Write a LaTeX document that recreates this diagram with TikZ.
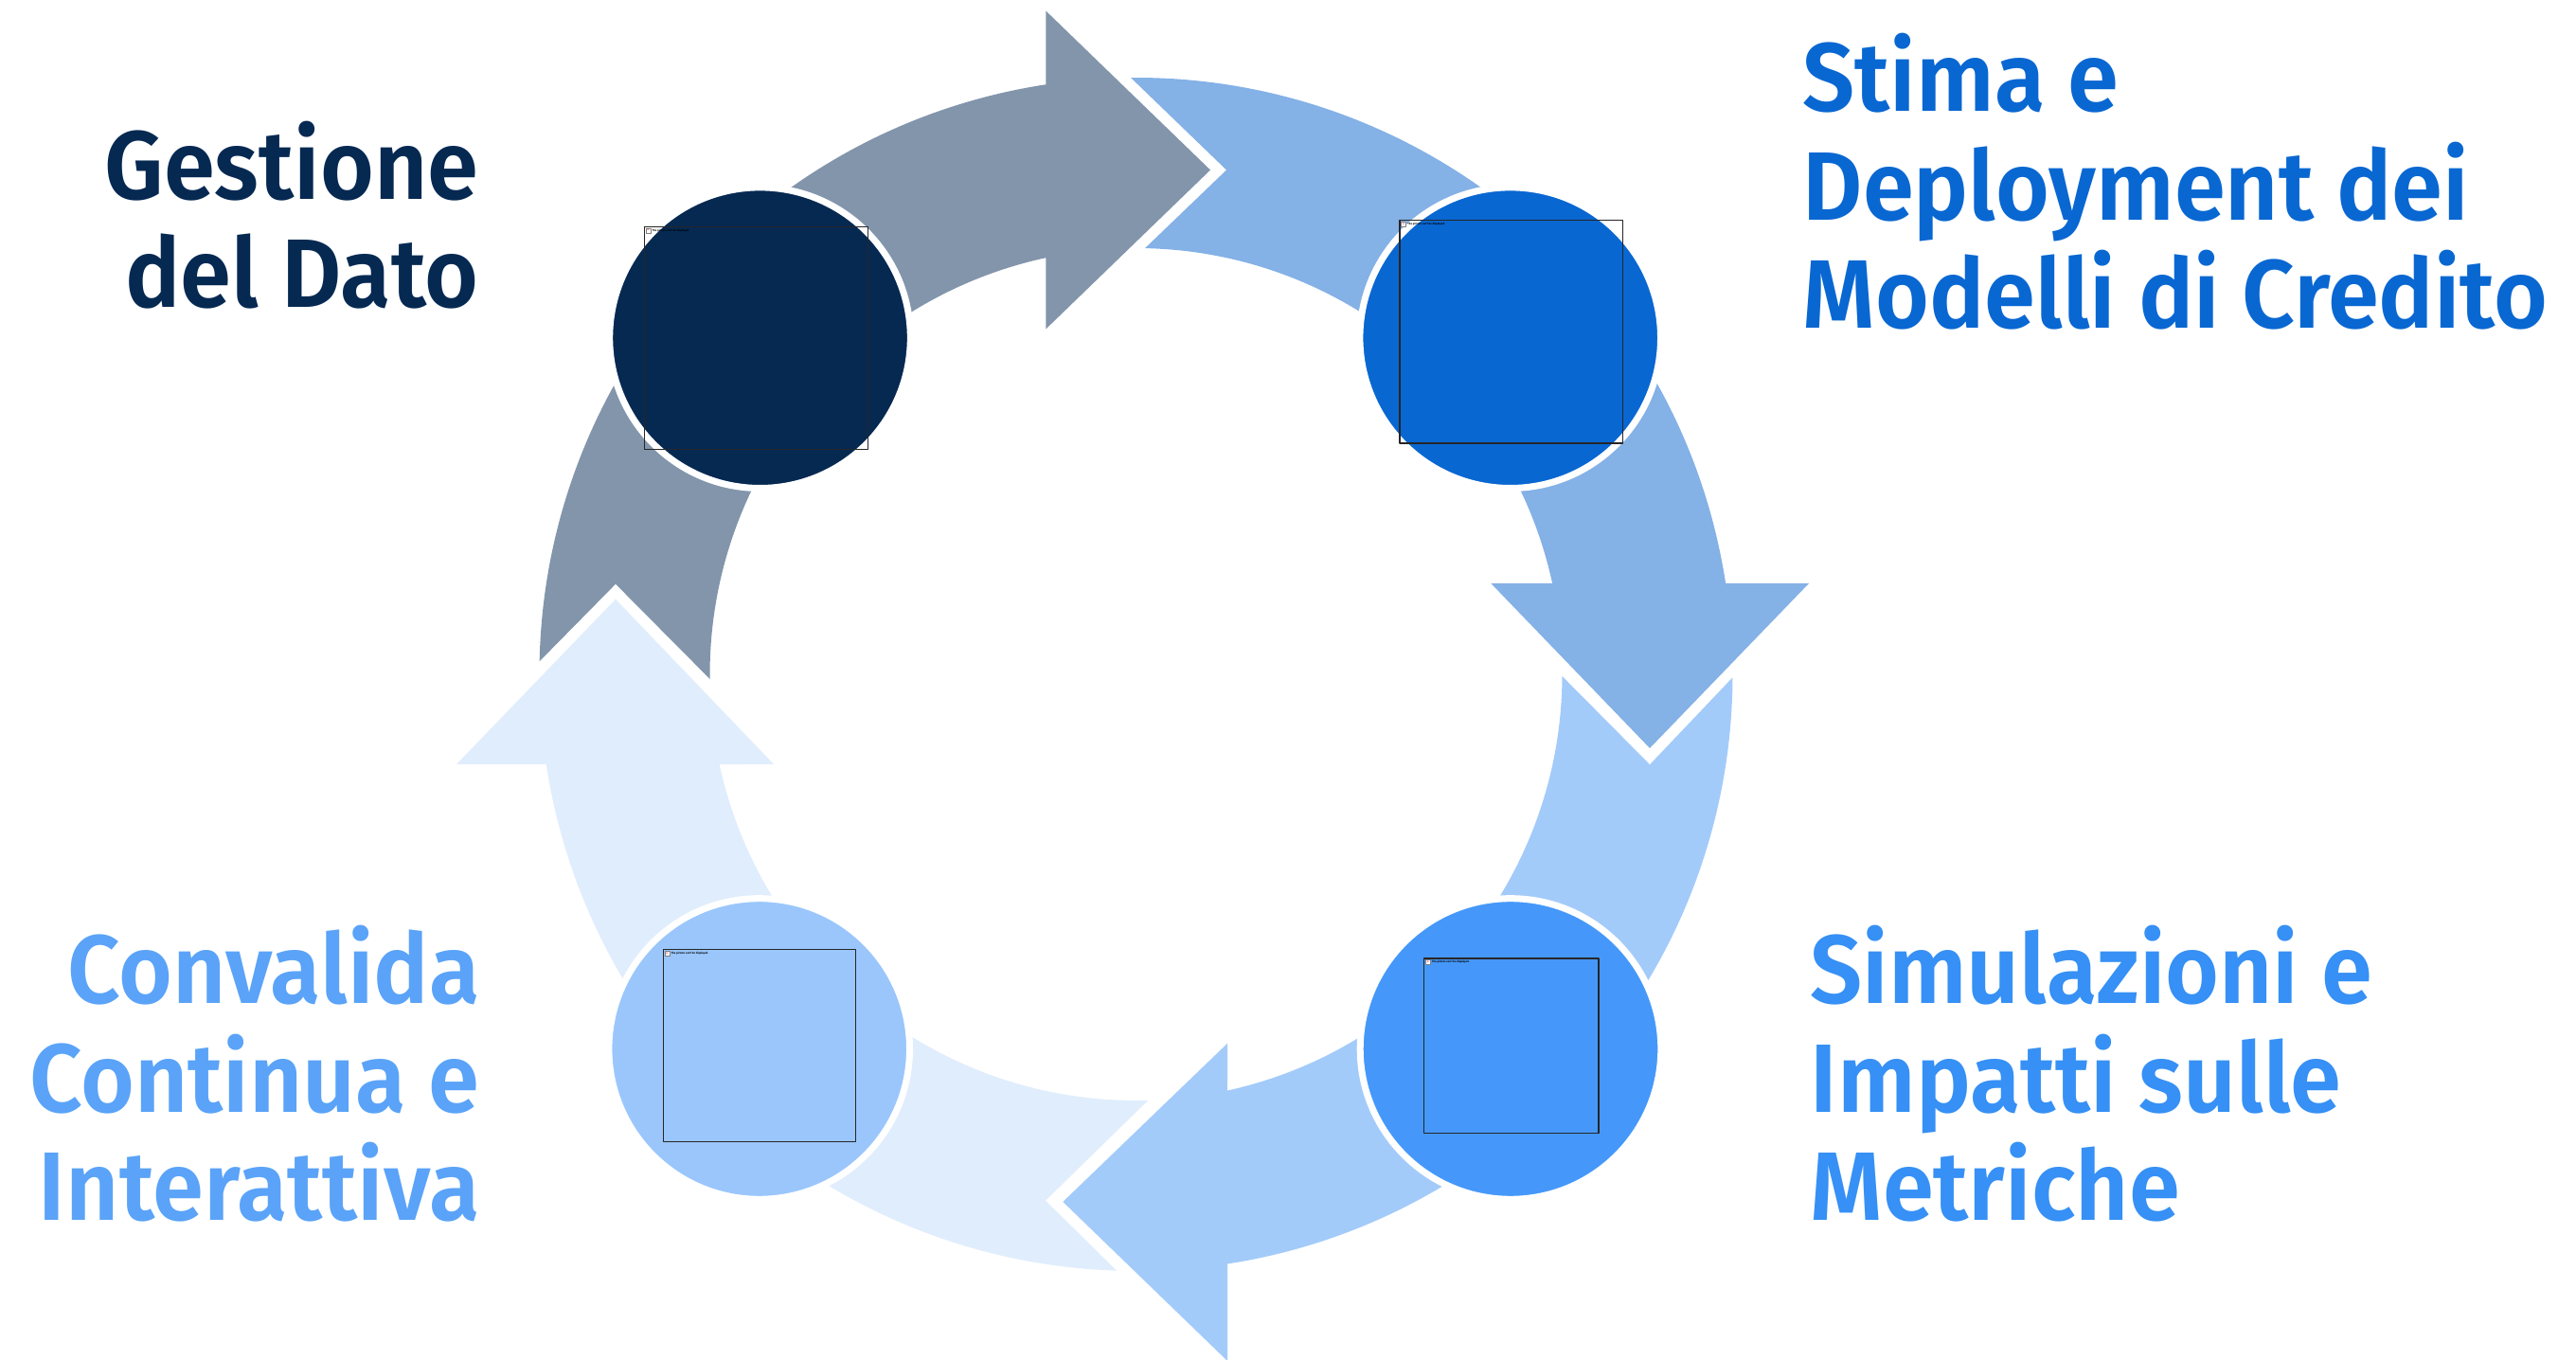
\documentclass[tikz,border=0pt]{standalone}
\usepackage{fontspec}
\setmainfont{Fira Sans}[UprightFont = * SemiBold, FakeStretch = 0.95]
\usetikzlibrary{calc}

\definecolor{arrowgray}{HTML}{8295AB}
\definecolor{arrowblue}{HTML}{84B1E6}
\definecolor{arrowsky}{HTML}{A3CBFA}
\definecolor{arrowpale}{HTML}{E0EDFC}
\definecolor{dotnavy}{HTML}{062952}
\definecolor{dotblue}{HTML}{0967D2}
\definecolor{dotmid}{HTML}{4598FA}
\definecolor{dotlight}{HTML}{9AC6FC}
\definecolor{textmid}{HTML}{3690F5}
\definecolor{textlight}{HTML}{5AA3F8}

\tikzset{
  dot/.style = {circle, draw = white, line width = 0.7mm, inner sep = 0pt,
    minimum size = 3.176cm},
  picbox/.style = {draw = black!85, line width = 0.4pt, inner sep = 0pt},
  picicon/.style = {draw = gray, fill = white, line width = 0.1pt, inner sep = 0pt,
    minimum size = 0.05cm, font = \fontsize{0.8pt}{1pt}\selectfont, text = red},
  pictext/.style = {inner sep = 0.01cm, text = black,
    font = \fontsize{0.85pt}{1pt}\selectfont},
  label/.style = {inner sep = 0pt, font = \fontsize{29.2pt}{32.7pt}\selectfont}
}

\begin{document}
\begin{tikzpicture}[line join = round, line cap = round]
  \useasboundingbox (0, 0) rectangle (27.2, 14.35);
  \coordinate (C) at (11.995, 7.23);

  \fill[arrowgray] ($(C) + (178.75:6.3)$) arc[radius = 6.3, start angle = 178.75,
    end angle = 98.69] -- (11.043, 14.235) -- (12.78, 12.555) -- (11.043, 10.875)
    -- ($(C) + (102.21:4.5)$) arc[radius = 4.5, start angle = 102.21,
    end angle = 180.63] -- (6.50, 8.183) -- cycle;
  \fill[arrowblue] ($(C) + (90.5:6.3)$) arc[radius = 6.3, start angle = 90.5,
    end angle = 8.77] -- (19.10, 8.19) -- (17.42, 6.45) -- (15.743, 8.19)
    -- ($(C) + (12.32:4.5)$) arc[radius = 4.5, start angle = 12.32,
    end angle = 88.79] -- (12.95, 12.555) -- cycle;
  \fill[arrowsky] ($(C) + (-0.3:6.3)$) arc[radius = 6.3, start angle = -0.3,
    end angle = -81.19] -- (12.96, -0.02) -- (11.223, 1.66) -- (12.96, 3.333)
    -- ($(C) + (-77.62:4.5)$) arc[radius = 4.5, start angle = -77.62,
    end angle = -0.25] -- (17.42, 6.277) -- cycle;
  \fill[arrowpale] ($(C) + (268.14:6.3)$) arc[radius = 6.3, start angle = 268.14,
    end angle = 188.67] -- (4.82, 6.28) -- (6.50, 8.023) -- (8.17, 6.28)
    -- ($(C) + (192.19:4.5)$) arc[radius = 4.5, start angle = 192.19,
    end angle = 271.63] -- (11.04, 1.673) -- cycle;

  \node[dot, fill = dotnavy] (data) at (8.025, 10.783) {};
  \node[dot, fill = dotblue] (model) at (15.947, 10.783) {};
  \node[dot, fill = dotmid] (sim) at (15.95, 3.275) {};
  \node[dot, fill = dotlight] (valid) at (8.017, 3.275) {};

  \node[picbox, minimum width = 2.36cm, minimum height = 2.35cm] (pic1)
    at (7.983, 10.782) {};
  \node[picbox, minimum size = 2.357cm] (pic2) at (15.959, 10.848) {};
  \node[picbox, minimum size = 1.843cm] (pic3) at (15.959, 3.308) {};
  \node[picbox, minimum size = 2.03cm] (pic4) at (8.018, 3.31) {};
  \foreach \p in {1, 2, 3, 4} {
    \node[picicon, anchor = north west] (icon\p)
      at ($(pic\p.north west) + (0.02, -0.02)$) {x};
    \node[pictext, anchor = west] at (icon\p.east) {The picture can't be displayed.};
  }

  \node[label, text = dotnavy, align = right, anchor = base east] (t1)
    at (5.06, 11.10) {Gestione\\del Dato};
  \node[label, text = dotblue, align = left, anchor = base west] (t2)
    at (19.03, 10.88) {Stima e\\Deployment dei\\Modelli di Credito};
  \node[label, text = textmid, align = left, anchor = base west] (t3)
    at (19.11, 1.46) {Simulazioni e\\Impatti sulle\\Metriche};
  \node[label, text = textlight, align = right, anchor = base east] (t4)
    at (5.07, 1.46) {Convalida\\Continua e\\Interattiva};
\end{tikzpicture}
\end{document}
